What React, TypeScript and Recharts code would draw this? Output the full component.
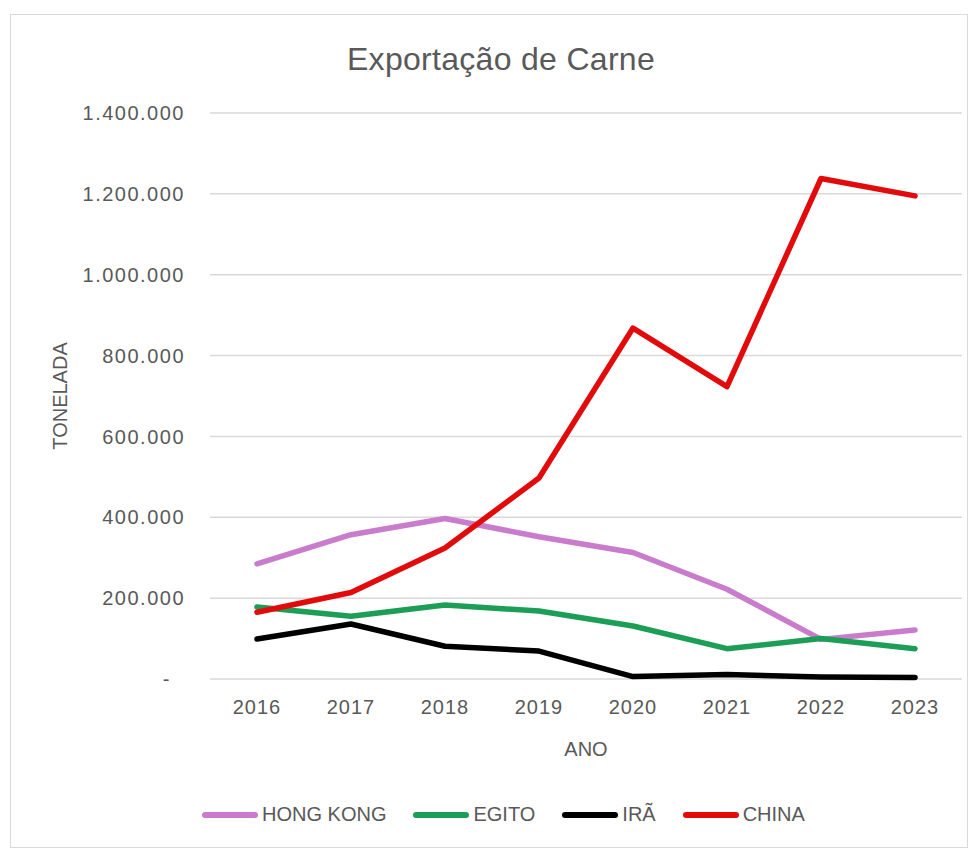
import React from 'react';
import { LineChart, Line, XAxis, YAxis, CartesianGrid, Legend, Label } from 'recharts';

const YEARS = ['2016', '2017', '2018', '2019', '2020', '2021', '2022', '2023'];
const HONG_KONG = [285000, 357000, 397000, 352000, 313000, 222000, 98000, 121000];
const EGITO = [178000, 155000, 183000, 168000, 131000, 75000, 100000, 75000];
const IRA = [99000, 136000, 81000, 69000, 6000, 11000, 5000, 4000];
const CHINA = [165000, 214000, 324000, 497000, 868000, 723000, 1238000, 1195000];
const Y_TICKS = [0, 200000, 400000, 600000, 800000, 1000000, 1200000, 1400000];

const SERIES = [
  { key: 'hongKong', name: 'HONG KONG', values: HONG_KONG, color: '#c97ccb' },
  { key: 'egito', name: 'EGITO', values: EGITO, color: '#1c9e57' },
  { key: 'ira', name: 'IRÃ', values: IRA, color: '#000000' },
  { key: 'china', name: 'CHINA', values: CHINA, color: '#e20b0b' },
];
const LEGEND_ORDER = SERIES.map((s) => s.name);

const data = YEARS.map((year, i) => {
  const row: Record<string, string | number> = { year };
  SERIES.forEach((s) => {
    row[s.key] = s.values[i];
  });
  return row;
});

const FONT = '"Liberation Sans", Arial, sans-serif';
const TEXT = '#595959';

const formatTon = (v: number) =>
  v === 0 ? '-\u00a0\u00a0' : String(v).replace(/\B(?=(\d{3})+(?!\d))/g, '.');

const LegendContent = (props: any) => {
  const payload = [...(props.payload || [])].sort(
    (a: any, b: any) => LEGEND_ORDER.indexOf(a.value) - LEGEND_ORDER.indexOf(b.value)
  );
  return (
    <div style={{ display: 'flex', alignItems: 'center', fontFamily: FONT, fontSize: 20, color: TEXT }}>
      {payload.map((entry: any) => (
        <div key={entry.value} style={{ display: 'flex', alignItems: 'center', marginRight: 26 }}>
          <svg width={58} height={10} style={{ marginRight: 3 }}>
            <line x1={4} y1={5} x2={54} y2={5} stroke={entry.color} strokeWidth={6} strokeLinecap="round" />
          </svg>
          <span>{entry.value}</span>
        </div>
      ))}
    </div>
  );
};

export default function App() {
  return (
    <div style={{ paddingTop: 6, paddingLeft: 2 }}>
      <div
        style={{
          width: 958,
          height: 834,
          border: '1px solid #d9d9d9',
          boxSizing: 'border-box',
          position: 'relative',
          background: '#fff',
        }}
      >
        <div
          style={{
            position: 'absolute',
            top: 26,
            left: 12,
            width: 956,
            textAlign: 'center',
            fontFamily: FONT,
            fontSize: 32,
            letterSpacing: 0.3,
            color: TEXT,
          }}
        >
          Exportação de Carne
        </div>
        <LineChart width={956} height={832} data={data} margin={{ top: 98, right: 5, bottom: 88, left: 0 }}>
          <CartesianGrid vertical={false} stroke="#d9d9d9" strokeWidth={1.5} />
          <XAxis
            dataKey="year"
            axisLine={false}
            tickLine={false}
            tickSize={0}
            tickMargin={21}
            height={80}
            padding={{ left: 47, right: 47 }}
            tick={{ fill: TEXT, fontSize: 20, fontFamily: FONT, letterSpacing: 1 }}
          >
            <Label value="ANO" position="insideBottom" offset={3} fill={TEXT} fontSize={20} fontFamily={FONT} />
          </XAxis>
          <YAxis
            width={199}
            domain={[0, 1400000]}
            ticks={Y_TICKS}
            interval={0}
            axisLine={false}
            tickLine={false}
            tickSize={0}
            tickMargin={25}
            tickFormatter={formatTon}
            tick={{ fill: TEXT, fontSize: 20, fontFamily: FONT, letterSpacing: 1.5 }}
          >
            <Label
              value="TONELADA"
              angle={-90}
              position="insideLeft"
              offset={49}
              fill={TEXT}
              fontSize={20}
              fontFamily={FONT}
              style={{ textAnchor: 'middle' }}
            />
          </YAxis>
          <Legend
            layout="horizontal"
            verticalAlign="middle"
            align="center"
            content={<LegendContent />}
            wrapperStyle={{ top: 788, left: 190, width: 760 }}
          />
          {SERIES.map((s) => (
            <Line
              key={s.key}
              dataKey={s.key}
              name={s.name}
              stroke={s.color}
              strokeWidth={5.5}
              strokeLinejoin="round"
              strokeLinecap="round"
              dot={false}
              activeDot={false}
              isAnimationActive={false}
            />
          ))}
        </LineChart>
      </div>
    </div>
  );
}
